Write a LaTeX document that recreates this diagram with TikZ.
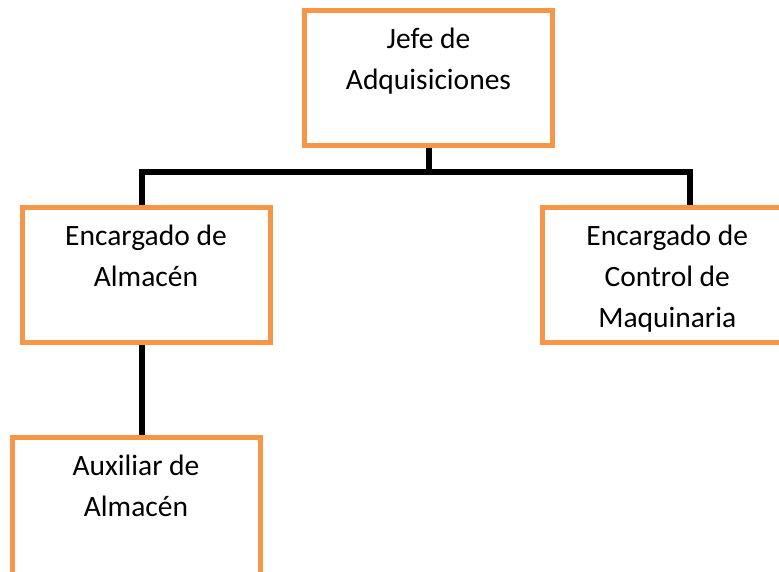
\documentclass[tikz,border=0pt]{standalone}
\usepackage{fontspec}
\setmainfont{Carlito}
\definecolor{orgline}{RGB}{247,150,70}
\begin{document}
\begin{tikzpicture}[x=1pt,y=-1pt,
  box/.style={draw=orgline, line width=5pt, fill=white, inner sep=0pt,
    minimum width=248pt, minimum height=135pt},
  conn/.style={draw=black, line width=6pt},
  lbl/.style={anchor=base, inner sep=0pt, font=\fontsize{29.5}{41}\selectfont}
]
\useasboundingbox (0,0) rectangle (779,571);
\clip (0,0) rectangle (779,571);
\coordinate (bl) at (142,172);
\coordinate (br) at (690,172);
% connectors
\draw[conn] (428.5,145.5) -- (428.5,172);
\draw[conn] (142,207) -- (bl) -- (br) -- (690,207);
\draw[conn] (142,342) -- (142,437);
% boxes
\node[box] (jefe) at (428.5,77.75) {};
\node[box] (alm) at (146,274.5) {};
\node[box, minimum width=249.5pt] (maq) at (667.25,274.5) {};
\node[box, minimum height=150pt] (aux) at (136,512) {};
% labels
\node[lbl] (tjefe) at ([yshift=-41pt]jefe.north) {\begin{tabular}[t]{@{}c@{}}Jefe de\\Adquisiciones\end{tabular}};
\node[lbl] (talm) at ([yshift=-41pt]alm.north) {\begin{tabular}[t]{@{}c@{}}Encargado de\\Almacén\end{tabular}};
\node[lbl] (tmaq) at ([yshift=-41pt]maq.north) {\begin{tabular}[t]{@{}c@{}}Encargado de\\Control de\\Maquinaria\end{tabular}};
\node[lbl] (taux) at ([yshift=-41pt]aux.north) {\begin{tabular}[t]{@{}c@{}}Auxiliar de\\Almacén\end{tabular}};
\end{tikzpicture}
\end{document}
